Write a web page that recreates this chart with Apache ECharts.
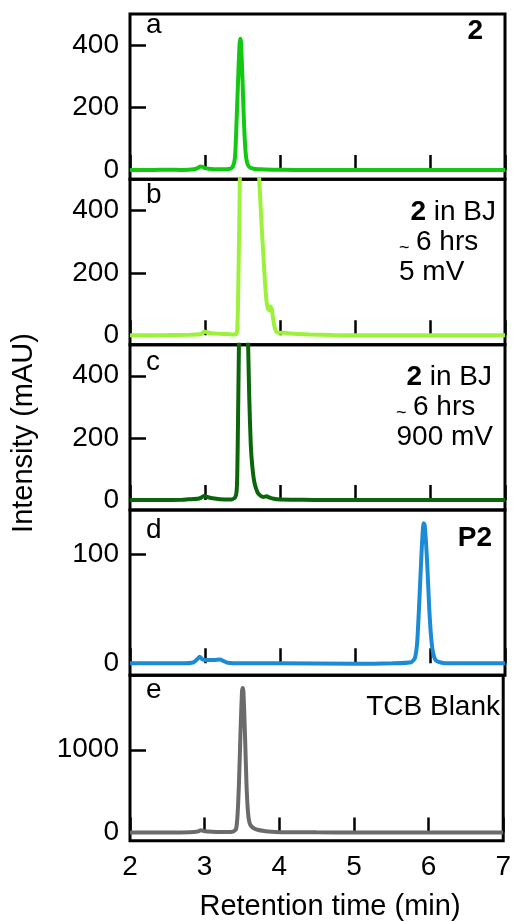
<!DOCTYPE html>
<html>
<head>
<meta charset="utf-8">
<script src="https://cdn.jsdelivr.net/npm/echarts@6/dist/echarts.min.js"></script>
<style>
html,body{margin:0;padding:0;background:#fff;}
#chart{width:514px;height:922px;}
</style>
</head>
<body>
<div id="chart"></div>
<script>
// ---- data ----
const xTickValues = [2, 3, 4, 5, 6, 7];

const timeA = [2.0, 2.3, 2.5, 2.7, 2.85, 2.9, 2.94, 2.97, 3.0, 3.05, 3.15, 3.25, 3.33, 3.37, 3.4, 3.42, 3.44, 3.46, 3.47, 3.48, 3.5, 3.52, 3.54, 3.56, 3.59, 3.65, 3.75, 3.9, 4.2, 4.6, 5.0, 5.5, 6.0, 6.5, 7.0];
const valA  = [0, 0, 1, 0, 2, 6, 11, 10, 6, 4, 2, 2, 4, 10, 40, 150, 280, 400, 421, 410, 290, 150, 60, 25, 10, 4, 2, 1, 0, 0, 0, 0, 0, 0, 0];

const timeB = [2.0, 2.5, 2.8, 2.95, 2.99, 3.02, 3.08, 3.2, 3.3, 3.4, 3.42, 3.43, 3.44, 3.45, 3.46, 3.47, 3.5, 3.6, 3.68, 3.72, 3.74, 3.76, 3.78, 3.8, 3.82, 3.84, 3.86, 3.875, 3.89, 3.91, 3.93, 3.95, 3.98, 4.05, 4.2, 4.4, 4.7, 5.0, 6.0, 7.0];
const valB  = [0, 1, 2, 4, 12, 10, 7, 5, 4, 3, 5, 20, 100, 250, 420, 600, 1200, 1500, 900, 520, 420, 330, 250, 170, 110, 85, 80, 92, 85, 50, 25, 12, 8, 8, 5, 3, 1, 0, 0, 0];

const timeC = [2.0, 2.4, 2.7, 2.82, 2.9, 2.95, 2.99, 3.03, 3.1, 3.2, 3.35, 3.4, 3.42, 3.43, 3.44, 3.45, 3.46, 3.5, 3.54, 3.56, 3.575, 3.59, 3.61, 3.63, 3.66, 3.7, 3.74, 3.78, 3.82, 3.86, 3.92, 4.0, 4.3, 4.6, 5.0, 5.5, 6.0, 7.0];
const valC  = [0, 0, 1, 3, 4, 8, 14, 10, 6, 3, 2, 8, 25, 80, 250, 450, 650, 1500, 1200, 650, 500, 330, 180, 110, 55, 25, 14, 10, 12, 8, 4, 2, 1, 0, 0, 0, 0, 0];

const timeD = [2.0, 2.4, 2.7, 2.85, 2.9, 2.93, 2.96, 3.0, 3.05, 3.12, 3.2, 3.25, 3.3, 3.5, 4.0, 5.0, 5.5, 5.75, 5.8, 5.83, 5.86, 5.89, 5.915, 5.93, 5.96, 5.99, 6.02, 6.05, 6.09, 6.2, 6.6, 7.0];
const valD  = [0, 0, 0, 1, 4, 6, 4, 3, 3, 3, 3.5, 2, 0.5, 0, 0, -0.5, 0, 1, 5, 20, 60, 105, 128, 126, 95, 50, 20, 7, 2, 0, 0, 0];

const timeE = [2.0, 2.5, 2.8, 2.9, 2.95, 3.0, 3.1, 3.2, 3.3, 3.38, 3.42, 3.44, 3.46, 3.48, 3.5, 3.51, 3.52, 3.54, 3.56, 3.58, 3.6, 3.63, 3.67, 3.72, 3.78, 3.85, 3.95, 4.1, 4.5, 5.0, 6.0, 7.0];
const valE  = [0, 0, 3, 10, 25, 15, 8, 5, 5, 10, 40, 200, 600, 1200, 1700, 1747, 1700, 1200, 600, 250, 120, 70, 45, 30, 20, 12, 6, 3, 1, 0, 0, 0];

const yTicksA = [0, 200, 400];
const yTicksB = [0, 200, 400];
const yTicksC = [0, 200, 400];
const yTicksD = [0, 100];
const yTicksE = [0, 1000];

const panelLetters = ['a', 'b', 'c', 'd', 'e'];

// ---- layout / styles ----
const FONT = '"Liberation Sans", Arial, Helvetica, sans-serif';
const FS = 28;
const panels = [
  {t: timeA, v: valA, ticks: yTicksA, min: -30, max: 500, color: '#12c912'},
  {t: timeB, v: valB, ticks: yTicksB, min: -30, max: 500, color: '#9cf23a'},
  {t: timeC, v: valC, ticks: yTicksC, min: -32, max: 500, color: '#0b660b'},
  {t: timeD, v: valD, ticks: yTicksD, min: -11, max: 140, color: '#1b8bd6'},
  {t: timeE, v: valE, ticks: yTicksE, min: -100, max: 1900, color: '#6b6b6b'}
];
const TOP = 14, H = 165.34;
const letterY = [25.6, 195.6, 362.3, 530.6, 690.6];

const grids = [], xAxes = [], yAxes = [], series = [];
panels.forEach((p, i) => {
  grids.push({left: 130, right: 9, top: TOP + i * H, height: H, show: true,
    borderColor: '#000', borderWidth: 3, backgroundColor: 'transparent', containLabel: false});
  xAxes.push({type: 'value', gridIndex: i, min: 2, max: 7, interval: 1,
    axisLine: {show: false}, splitLine: {show: false},
    axisTick: {show: true, inside: true, length: 15, lineStyle: {color: '#000', width: 2.5}},
    axisLabel: {show: i === 4, margin: 13, color: '#000', fontSize: FS, fontFamily: FONT,
      customValues: xTickValues, formatter: v => String(v)}
  });
  yAxes.push({type: 'value', gridIndex: i, min: p.min, max: p.max,
    axisLine: {show: false}, splitLine: {show: false},
    axisTick: {show: true, inside: true, length: 16, lineStyle: {color: '#000', width: 2.5},
      customValues: p.ticks},
    axisLabel: {show: true, margin: 11, color: '#000', fontSize: FS, fontFamily: FONT,
      customValues: p.ticks, formatter: v => String(v)}
  });
  series.push({type: 'line', xAxisIndex: i, yAxisIndex: i, showSymbol: false, symbol: 'none',
    smooth: 0.2, clip: true, lineStyle: {color: p.color, width: 4}, z: 1,
    data: p.t.map((x, k) => [x, p.v[k]])});
});

const txt = (text, x, y, align, extra) => Object.assign({
  type: 'text', x: x, y: y, z: 100,
  style: Object.assign({text: text, align: align, verticalAlign: 'middle',
    font: FS + 'px ' + FONT, fill: '#000'}, extra || {})
});
const BOLD = 'bold ' + FS + 'px ' + FONT;

const graphic = [];
panelLetters.forEach((l, i) => graphic.push(txt(l, 146, letterY[i], 'left')));
graphic.push(txt('2', 483, 31, 'right', {font: BOLD}));
// panel b
graphic.push(txt('{b|2} in BJ', 496, 212.3, 'right', {rich: {b: {font: BOLD}}}));
graphic.push(txt('~', 399, 248, 'left', {font: '18px ' + FONT}));
graphic.push(txt('6 hrs', 416, 242.3, 'left'));
graphic.push(txt('5 mV', 399, 272.3, 'left'));
// panel c
graphic.push(txt('{b|2} in BJ', 492, 377.5, 'right', {rich: {b: {font: BOLD}}}));
graphic.push(txt('~', 396, 413, 'left', {font: '18px ' + FONT}));
graphic.push(txt('6 hrs', 413, 407.5, 'left'));
graphic.push(txt('900 mV', 493, 437.5, 'right'));
// panel d, e
graphic.push(txt('P2', 492, 538, 'right', {font: BOLD}));
graphic.push(txt('TCB Blank', 500, 707, 'right'));
// axis titles
graphic.push(txt('Retention time (min)', 330, 907, 'center', {font: '29px ' + FONT}));
graphic.push(Object.assign(txt('Intensity (mAU)', 24, 433, 'center', {font: '29px ' + FONT}), {rotation: Math.PI / 2}));

const chart = echarts.init(document.getElementById('chart'), null, {renderer: 'canvas'});
chart.setOption({
  animation: false,
  backgroundColor: '#fff',
  grid: grids, xAxis: xAxes, yAxis: yAxes, series: series,
  graphic: graphic
});
</script>
</body>
</html>
